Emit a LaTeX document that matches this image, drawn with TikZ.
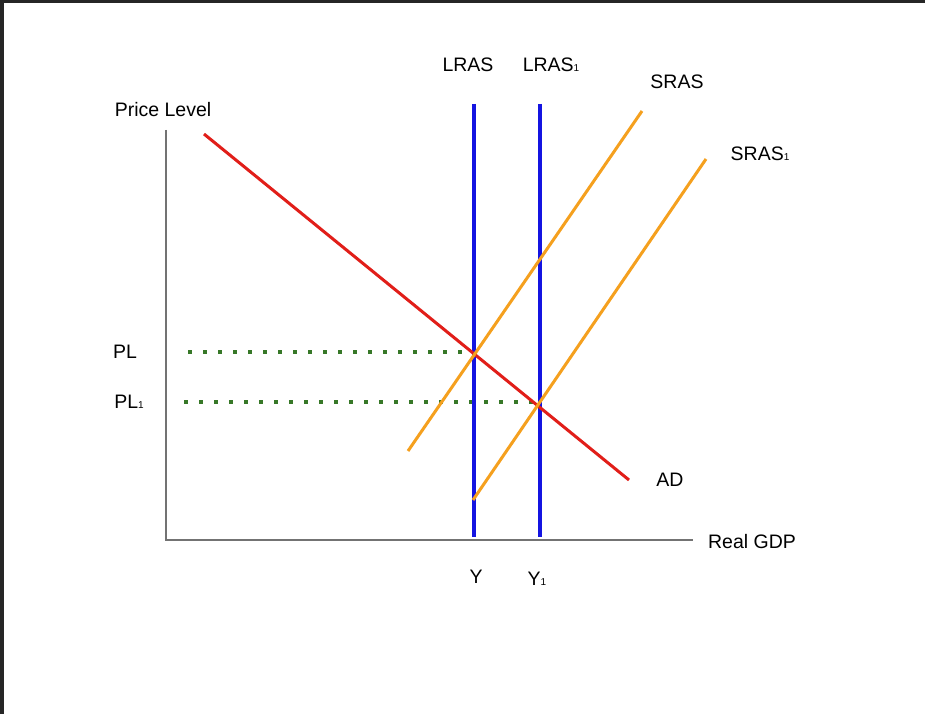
\documentclass[tikz,border=0pt]{standalone}
\usepackage{fontspec}
\setmainfont{Liberation Sans}
\newcommand{\sub}[1]{{\fontsize{10}{10}\selectfont #1}}
\definecolor{adred}{RGB}{225,30,25}
\definecolor{lblue}{RGB}{20,20,225}
\definecolor{sorange}{RGB}{245,160,30}
\definecolor{dgreen}{RGB}{55,120,40}
\begin{document}
\begin{tikzpicture}[x=1pt,y=-1pt,
  lbl/.style={font=\fontsize{19.5}{19.5}\selectfont, inner sep=0pt},
  axisline/.style={draw=gray!90!black, line width=1.5pt},
  adline/.style={draw=adred, line width=3pt},
  lrasline/.style={draw=lblue, line width=4pt},
  srasline/.style={draw=sorange, line width=3pt},
  dotline/.style={draw=dgreen, line width=3.5pt, dash pattern=on 3.5pt off 11.5pt}]
\useasboundingbox (0,0) rectangle (925,714);
\fill[white] (0,0) rectangle (925,714);
\fill[black!85] (0,0) rectangle (925,3);
\fill[black!85] (0,0) rectangle (4,714);
% coordinates
\coordinate (o) at (166,540);
\coordinate (ytop) at (166,130);
\coordinate (xend) at (693,540);
\coordinate (ad1) at (204,134);
\coordinate (ad2) at (629,480);
\coordinate (l1a) at (474,104);
\coordinate (l1b) at (474,537);
\coordinate (l2a) at (540,104);
\coordinate (l2b) at (540,537);
\coordinate (s1a) at (408,451);
\coordinate (s1b) at (642,111);
\coordinate (s2a) at (473,500);
\coordinate (s2b) at (706,159);
\coordinate (p1a) at (188,352);
\coordinate (p1b) at (474,352);
\coordinate (p2a) at (184,402);
\coordinate (p2b) at (540,402);
% dotted
\draw[dotline] (p1a) -- (p1b);
\draw[dotline] (p2a) -- (p2b);
% axes
\draw[axisline] (ytop) -- (o) -- (xend);
% curves
\draw[lrasline] (l1a) -- (l1b);
\draw[lrasline] (l2a) -- (l2b);
\draw[adline] (ad1) -- (ad2);
\draw[srasline] (s1a) -- (s1b);
\draw[srasline] (s2a) -- (s2b);
% labels
\node[lbl] (tpl) at (163,110) {Price Level};
\node[lbl] (tpl0) at (125,352) {PL};
\node[lbl] (tpl1) at (129,402) {PL\sub{1}};
\node[lbl] (tlras) at (468,65) {LRAS};
\node[lbl] (tlras1) at (551,65) {LRAS\sub{1}};
\node[lbl] (tsras) at (677,82) {SRAS};
\node[lbl] (tsras1) at (760,154) {SRAS\sub{1}};
\node[lbl] (tad) at (670,480) {AD};
\node[lbl] (tgdp) at (752,542) {Real GDP};
\node[lbl] (ty) at (476,577) {Y};
\node[lbl] (ty1) at (537,579) {Y\sub{1}};
\end{tikzpicture}
\end{document}
